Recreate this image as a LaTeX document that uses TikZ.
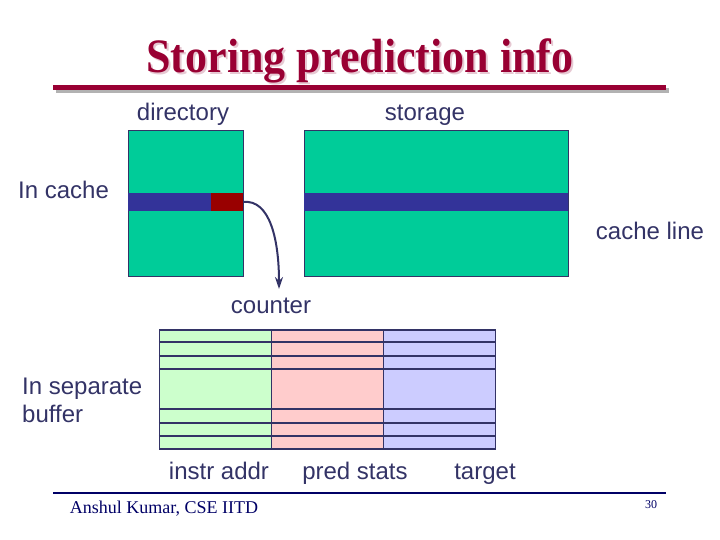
\documentclass[tikz,border=0pt]{standalone}
\usepackage{fontspec}
\setmainfont{Liberation Serif}
\setsansfont{Liberation Sans}
\usetikzlibrary{arrows.meta}
\definecolor{titlered}{HTML}{990033}
\definecolor{titleshade}{HTML}{E6C8D2}
\definecolor{navytxt}{HTML}{333366}
\definecolor{footnavy}{HTML}{000066}
\definecolor{cachegreen}{HTML}{00CC99}
\definecolor{lineblue}{HTML}{333399}
\definecolor{ctrred}{HTML}{990000}
\definecolor{addrgreen}{HTML}{CCFFCC}
\definecolor{statpink}{HTML}{FFCCCC}
\definecolor{targlav}{HTML}{CCCCFF}
\newcommand{\titletext}{\scalebox{0.917}[1]{Storing prediction info}}
\tikzset{
    lbl/.style={text=navytxt, font=\sffamily\fontsize{24}{28}\selectfont, inner sep=0pt, anchor=base},
    titlefont/.style={font=\bfseries\fontsize{48}{54}\selectfont, inner sep=0pt, anchor=base},
    cachebox/.style={draw=navytxt, line width=1pt, fill=cachegreen, inner sep=0pt},
    band/.style={fill=lineblue, inner sep=0pt, minimum height=18},
    bufcol/.style={draw=navytxt, line width=1.2pt, inner sep=0pt, minimum width=112, minimum height=119}
}
\begin{document}
\begin{tikzpicture}[x=1pt,y=-1pt]
    \useasboundingbox (0,0) rectangle (720,540);

    % title
    \node[titlefont, text=titleshade] (titleshadow) at (362,75) {\titletext};
    \node[titlefont, text=titlered] (title) at (360,73) {\titletext};
    \draw[gray!60, line width=5pt] (56,91) -- (669,91);
    \draw[titlered, line width=5pt] (53,88) -- (666,88);

    % cache
    \node[lbl] (dirlbl) at (183,121) {directory};
    \node[lbl] (storlbl) at (425,121) {storage};
    \node[cachebox, minimum width=115, minimum height=145] (dir) at (185.5,203.5) {};
    \node[cachebox, minimum width=264, minimum height=145] (stor) at (436,203.5) {};
    \node[band, minimum width=115] (dirline) at (185.5,202) {};
    \node[band, minimum width=264] (storline) at (436,202) {};
    \node[fill=ctrred, inner sep=0pt, minimum width=32, minimum height=18] (ctr) at (227,202) {};
    \node[lbl, anchor=base west] (incache) at (18,199) {In cache};
    \node[lbl] (cachelbl) at (650,240) {cache line};
    \node[lbl] (counter) at (271,313) {counter};
    \coordinate (tip) at (279,289);
    \draw[navytxt, line width=2pt, -{Stealth[length=12pt,width=8pt]}]
        (ctr.east) .. controls (270,199) and (279,240) .. (tip);

    % separate buffer
    \node[bufcol, fill=addrgreen] (addr) at (215.5,389.5) {};
    \node[bufcol, fill=statpink] (stats) at (327.5,389.5) {};
    \node[bufcol, fill=targlav] (targ) at (439.5,389.5) {};
    \foreach \y in {342,356,369,409,423,436}
        \draw[navytxt, line width=1.2pt] (addr.west |- 0,\y) -- (targ.east |- 0,\y);
    \node[lbl, anchor=base west, align=left] (insep) at (22,422) {In separate\\buffer};
    \node[lbl] (addrlbl) at (219,479) {instr addr};
    \node[lbl] (statlbl) at (355,479) {pred stats};
    \node[lbl] (targlbl) at (485,479) {target};

    % footer
    \draw[footnavy, line width=2.5pt] (53,493) -- (666,493);
    \node[text=footnavy, font=\fontsize{18}{20}\selectfont, inner sep=0pt, anchor=base]
        (author) at (164,513) {Anshul Kumar, CSE IITD};
    \node[text=footnavy, font=\fontsize{12}{14}\selectfont, inner sep=0pt, anchor=base]
        (page) at (651,508) {30};
\end{tikzpicture}
\end{document}
